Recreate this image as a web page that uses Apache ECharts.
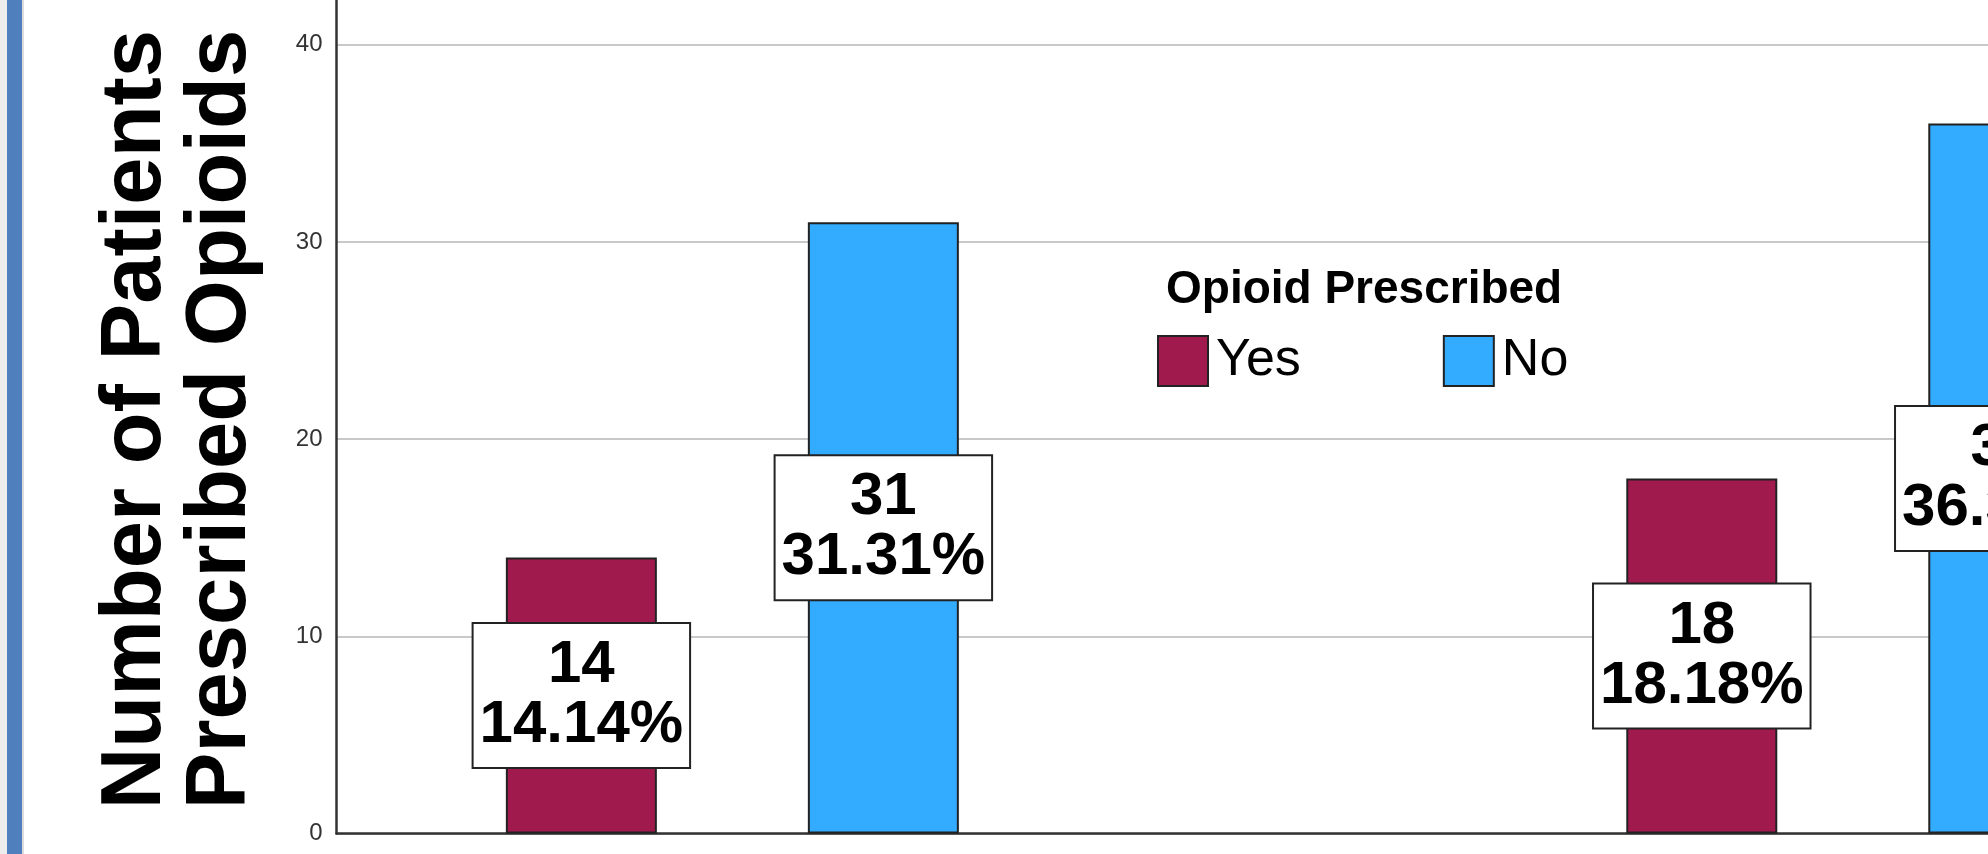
<!DOCTYPE html>
<html>
<head>
<meta charset="utf-8">
<script src="https://cdn.jsdelivr.net/npm/echarts@6/dist/echarts.min.js"></script>
<style>
html,body{margin:0;padding:0;background:#fff;}
#chart{width:1988px;height:854px;}
</style>
</head>
<body>
<div id="chart"></div>
<script>
// ---- data ----
const categories = ['Group 1', 'Group 2'];       // x labels are cropped out of the picture
const seriesNames = ['Yes', 'No'];
const yesCounts = [14, 18];
const noCounts = [31, 36];
const yesPercents = ['14.14%', '18.18%'];
const noPercents = ['31.31%', '36.36%'];
const yTickValues = [0, 10, 20, 30, 40];
const legendTitle = 'Opioid Prescribed';
const yTitle = 'Number of Patients\nPrescribed Opioids';

const FONT = "'Liberation Sans', Arial, sans-serif";
const COLORS = ['#A01A4E', '#33ABFF'];

function buildData(counts, pcts) {
  return categories.map((c, i) => ({ name: c, value: [i + 1, counts[i]], pct: pcts[i] }));
}

const labelStyle = {
  show: true,
  position: 'inside',
  formatter: p => p.value[1] + '\n' + p.data.pct,
  fontFamily: FONT,
  fontSize: 60,
  fontWeight: 'bold',
  lineHeight: 60,
  color: '#000',
  backgroundColor: '#fff',
  borderColor: '#222',
  borderWidth: 2,
  padding: [15, 6, 8, 6],
  align: 'center'
};

const chart = echarts.init(document.getElementById('chart'), null, { renderer: 'canvas' });
chart.setOption({
  animation: false,
  backgroundColor: '#fff',
  title: {
    text: legendTitle,
    left: 1166,
    top: 267,
    padding: 0,
    textStyle: { fontFamily: FONT, fontSize: 46, fontWeight: 'bold', color: '#000', lineHeight: 46 }
  },
  legend: {
    data: seriesNames,
    left: 1157,
    top: 329,
    padding: 0,
    itemWidth: 50,
    itemHeight: 50,
    itemGap: 142,
    icon: 'rect',
    textStyle: { fontFamily: FONT, fontSize: 52, color: '#000', padding: [14, 0, 0, 3], lineHeight: 50 }
  },
  grid: { left: 336.5, right: -425, top: -152.5, bottom: 20.5, containLabel: false, outerBoundsMode: 'none' },
  xAxis: {
    type: 'value',
    min: 0.6467,
    max: 2.5,
    axisLine: { show: true, onZero: false, lineStyle: { color: '#333', width: 2.5 } },
    axisTick: { show: false },
    axisLabel: { show: false },
    splitLine: { show: false }
  },
  yAxis: {
    type: 'value',
    min: 0,
    max: 50,
    interval: 10,
    axisLine: { show: true, onZero: false, lineStyle: { color: '#333', width: 2.5 } },
    axisTick: { show: false },
    axisLabel: {
      fontFamily: FONT, fontSize: 24, color: '#333', margin: 14,
      formatter: v => (yTickValues.indexOf(v) >= 0 ? String(v) : '')
    },
    splitLine: { show: true, lineStyle: { color: '#c9c9c9', width: 2 } }
  },
  series: [
    {
      name: seriesNames[0], type: 'bar',
      data: buildData(yesCounts, yesPercents),
      barWidth: 151, barGap: '100%',
      itemStyle: { color: COLORS[0], borderColor: '#222', borderWidth: 2 },
      label: labelStyle
    },
    {
      name: seriesNames[1], type: 'bar',
      data: buildData(noCounts, noPercents),
      barWidth: 151, barGap: '100%',
      itemStyle: { color: COLORS[1], borderColor: '#222', borderWidth: 2 },
      label: labelStyle
    }
  ],
  graphic: [
    { type: 'rect', left: 0, top: 0, shape: { width: 7, height: 854 }, style: { fill: '#ececec' }, silent: true },
    { type: 'rect', left: 7, top: 0, shape: { width: 15, height: 854 }, style: { fill: '#4f7fbd' }, silent: true },
    { type: 'rect', left: 22, top: 0, shape: { width: 2, height: 854 }, style: { fill: '#dcdcdc' }, silent: true },
    {
      type: 'text',
      x: 179, y: 419.5,
      rotation: Math.PI / 2,
      style: {
        text: yTitle,
        font: 'bold 85px ' + FONT,
        lineHeight: 85,
        fill: '#000',
        align: 'center',
        verticalAlign: 'middle'
      },
      silent: true
    }
  ]
});
</script>
</body>
</html>
